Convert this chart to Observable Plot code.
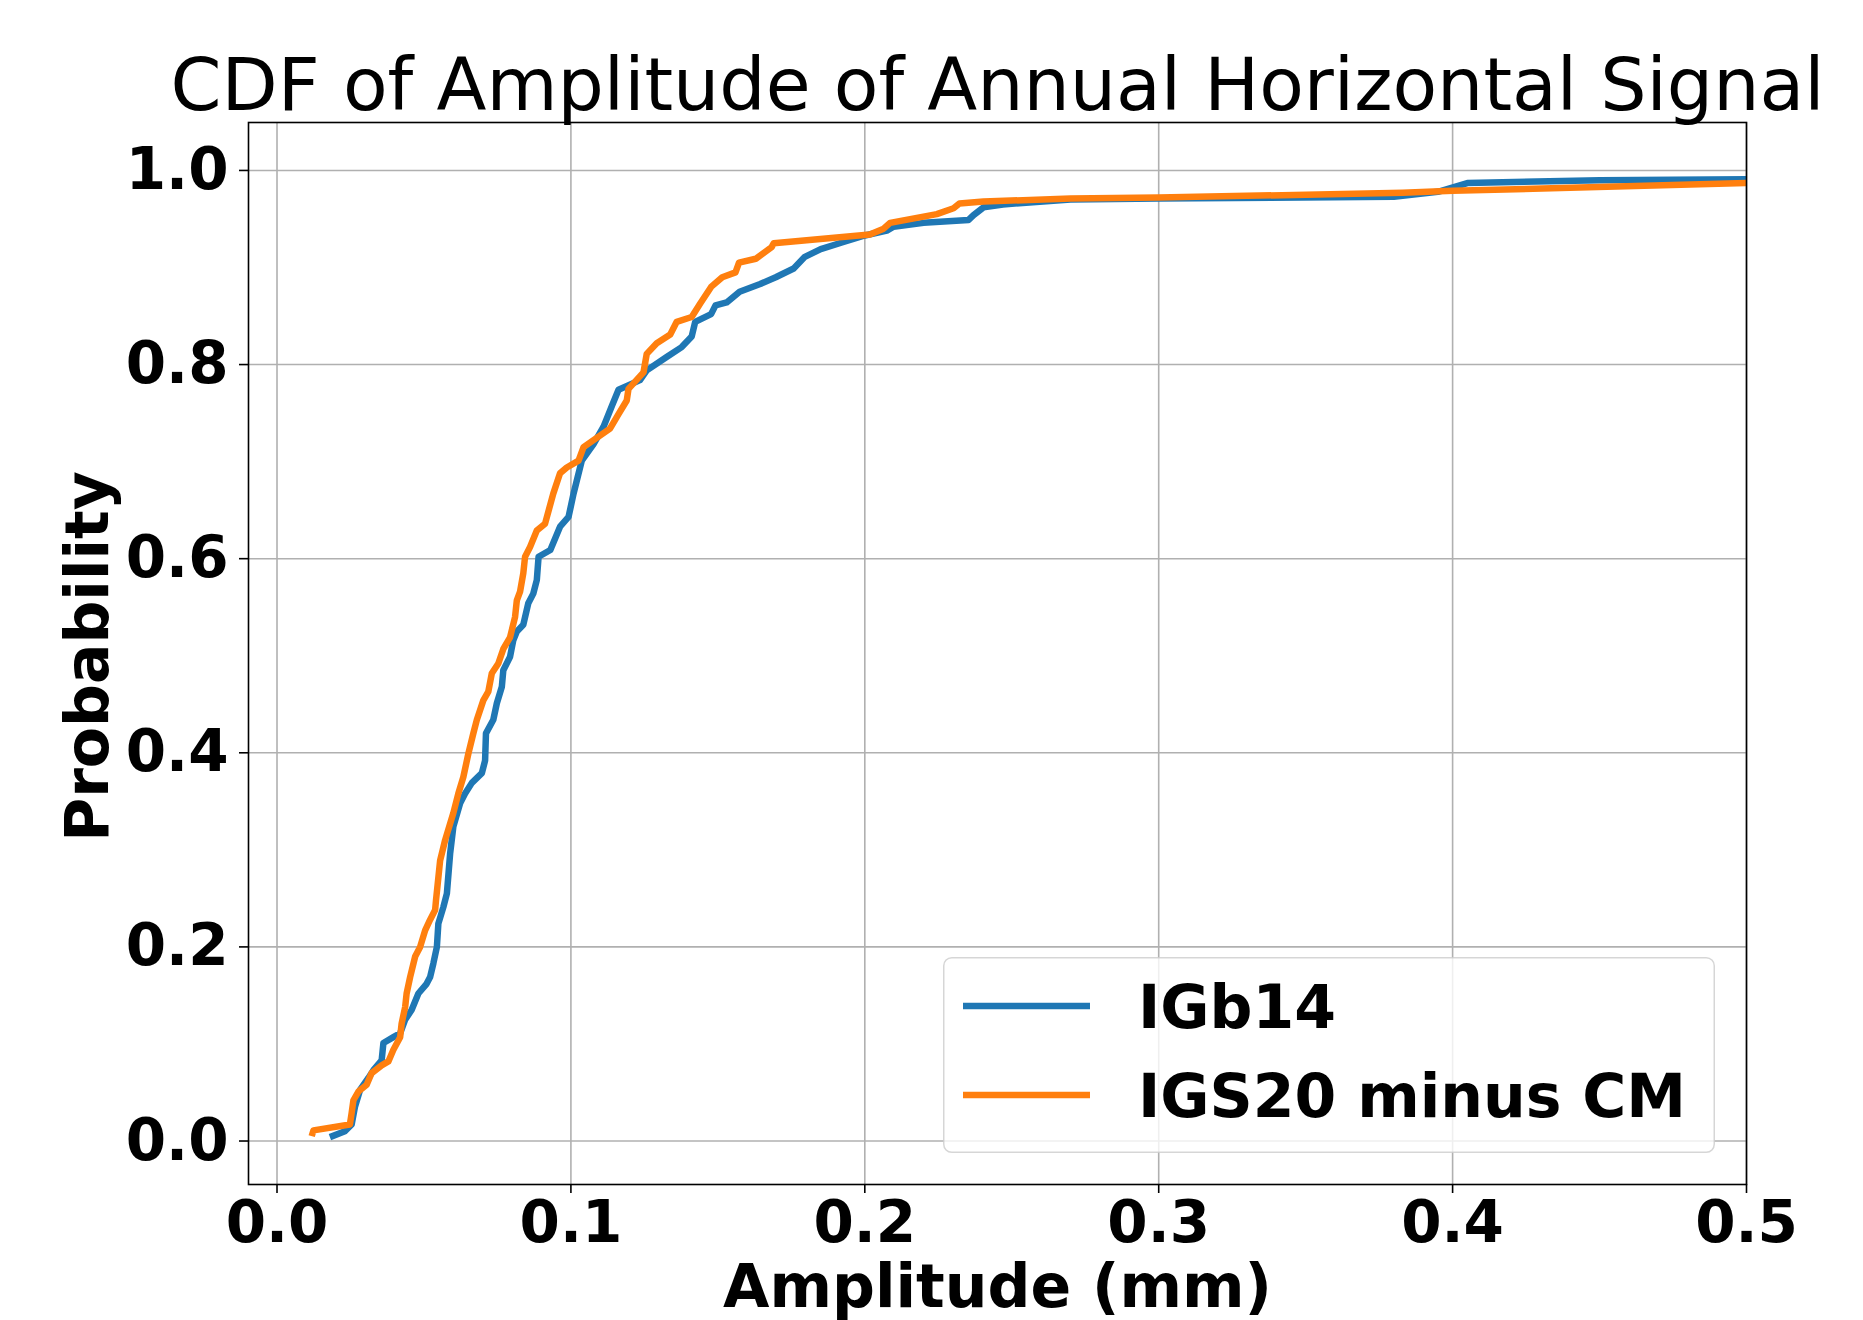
<!DOCTYPE html>
<html>
<head>
<meta charset="utf-8">
<script src="https://cdn.jsdelivr.net/npm/d3@7"></script>
<script src="https://cdn.jsdelivr.net/npm/@observablehq/plot@0.6"></script>
<style>
  html, body { margin: 0; padding: 0; background: #fff; }
  #wrap { position: relative; width: 1863px; height: 1320px; overflow: hidden; }
  #wrap svg { display: block; }
  #legend { position: absolute; left: 943px; top: 957px; }
</style>
</head>
<body>
<div id="wrap"></div>
<script>
const titleText = "CDF of Amplitude of Annual Horizontal Signal";
const xLabel = "Amplitude (mm)";
const yLabel = "Probability";
const xTicks = [0, 0.1, 0.2, 0.3, 0.4, 0.5];
const yTicks = [0, 0.2, 0.4, 0.6, 0.8, 1.0];
const seriesNames = ["IGb14", "IGS20 minus CM"];
const seriesColors = ["#1f77b4", "#ff7f0e"];

const igb14Amp = [0.0180,0.0231,0.0254,0.0265,0.0283,0.0311,0.0328,0.0356,0.0362,0.0396,0.0419,0.0436,0.0458,0.0481,0.0509,0.0521,0.0532,0.0544,0.0549,0.0566,0.0578,0.0589,0.0600,0.0623,0.0640,0.0663,0.0697,0.0708,0.0711,0.0736,0.0748,0.0765,0.0770,0.0793,0.0804,0.0816,0.0838,0.0855,0.0872,0.0884,0.0890,0.0930,0.0963,0.0992,0.1009,0.1037,0.1077,0.1111,0.1139,0.1162,0.1235,0.1258,0.1327,0.1377,0.1411,0.1423,0.1477,0.1492,0.1530,0.1574,0.1644,0.1697,0.1758,0.1796,0.1850,0.1925,0.2000,0.2075,0.2098,0.2200,0.2353,0.2370,0.2404,0.2470,0.2700,0.3000,0.3800,0.3950,0.4050,0.4500,0.5000];
const igb14Prob = [0.004,0.010,0.017,0.035,0.053,0.065,0.073,0.083,0.101,0.107,0.111,0.125,0.135,0.152,0.162,0.169,0.183,0.200,0.224,0.241,0.255,0.296,0.324,0.348,0.358,0.369,0.379,0.392,0.420,0.434,0.451,0.468,0.485,0.499,0.516,0.525,0.532,0.554,0.564,0.578,0.602,0.609,0.633,0.643,0.667,0.701,0.718,0.736,0.757,0.774,0.784,0.794,0.808,0.818,0.829,0.844,0.852,0.861,0.864,0.875,0.883,0.890,0.899,0.911,0.919,0.926,0.933,0.938,0.942,0.946,0.949,0.954,0.962,0.965,0.970,0.971,0.973,0.978,0.987,0.990,0.991];

const igs20Amp = [0.0118,0.0124,0.0248,0.0254,0.0260,0.0277,0.0305,0.0322,0.0356,0.0379,0.0396,0.0419,0.0424,0.0436,0.0441,0.0453,0.0470,0.0487,0.0504,0.0521,0.0538,0.0541,0.0555,0.0572,0.0600,0.0617,0.0634,0.0651,0.0668,0.0680,0.0702,0.0719,0.0731,0.0753,0.0770,0.0793,0.0810,0.0816,0.0827,0.0838,0.0844,0.0861,0.0884,0.0912,0.0940,0.0963,0.0986,0.1026,0.1043,0.1100,0.1133,0.1162,0.1190,0.1196,0.1247,0.1258,0.1292,0.1338,0.1360,0.1411,0.1440,0.1477,0.1515,0.1560,0.1572,0.1629,0.1683,0.1690,0.2017,0.2064,0.2086,0.2245,0.2302,0.2322,0.2404,0.2700,0.3000,0.3830,0.4000,0.5000];
const igs20Prob = [0.005,0.011,0.017,0.029,0.042,0.051,0.058,0.070,0.078,0.082,0.094,0.107,0.121,0.138,0.152,0.169,0.190,0.200,0.217,0.228,0.238,0.248,0.289,0.310,0.338,0.358,0.375,0.399,0.420,0.434,0.454,0.463,0.482,0.492,0.507,0.519,0.540,0.557,0.566,0.585,0.602,0.612,0.629,0.636,0.667,0.688,0.694,0.701,0.715,0.727,0.734,0.749,0.763,0.775,0.792,0.811,0.822,0.831,0.844,0.849,0.863,0.880,0.890,0.895,0.905,0.909,0.921,0.925,0.934,0.940,0.946,0.955,0.961,0.966,0.968,0.971,0.972,0.977,0.979,0.987];

const rows = [
  ...igb14Amp.map((x, i) => ({series: seriesNames[0], x, p: igb14Prob[i]})),
  ...igs20Amp.map((x, i) => ({series: seriesNames[1], x, p: igs20Prob[i]}))
];

const fmt = d3.format(".1f");
const font = "DejaVu Sans";

const chart = Plot.plot({
  width: 1863,
  height: 1320,
  marginLeft: 248,
  marginRight: 117,
  marginTop: 122,
  marginBottom: 136,
  style: {fontFamily: font, background: "white", color: "black", overflow: "visible"},
  x: {domain: [-0.0097, 0.5]},
  y: {domain: [-0.0448, 1.0494]},
  color: {domain: seriesNames, range: seriesColors},
  marks: [
    Plot.gridX(xTicks, {stroke: "#b0b0b0", strokeOpacity: 1, strokeWidth: 1.6}),
    Plot.gridY(yTicks, {stroke: "#b0b0b0", strokeOpacity: 1, strokeWidth: 1.6}),
    Plot.line(rows, {x: "x", y: "p", z: "series", stroke: "series", strokeWidth: 6.5, strokeLinejoin: "round", strokeLinecap: "butt", clip: true}),
    Plot.frame({stroke: "black", strokeWidth: 1.6}),
    Plot.axisX(xTicks, {tickFormat: fmt, tickSize: 9, tickPadding: 7, fontSize: 58, fontWeight: "bold", label: null, strokeWidth: 1.6}),
    Plot.axisY(yTicks, {tickFormat: fmt, tickSize: 9, tickPadding: 11, fontSize: 58, fontWeight: "bold", label: null, strokeWidth: 1.6}),
    Plot.text([titleText], {frameAnchor: "top", dy: -13, lineAnchor: "bottom", fontSize: 73, fill: "black"}),
    Plot.text([xLabel], {frameAnchor: "bottom", dy: 122, lineAnchor: "bottom", fontSize: 60, fontWeight: "bold", fill: "black"}),
    Plot.text([yLabel], {frameAnchor: "left", dx: -141, dy: 3, rotate: -90, lineAnchor: "bottom", textAnchor: "middle", fontSize: 60, fontWeight: "bold", fill: "black"})
  ]
});

const wrap = document.getElementById("wrap");
wrap.appendChild(chart);

// legend overlay (inside the axes, lower right)
const ns = "http://www.w3.org/2000/svg";
const lw = 772, lh = 196;
const leg = document.createElementNS(ns, "svg");
leg.setAttribute("id", "legend");
leg.setAttribute("width", lw);
leg.setAttribute("height", lh);
const box = document.createElementNS(ns, "rect");
box.setAttribute("x", 0.75); box.setAttribute("y", 0.75);
box.setAttribute("width", lw - 1.5); box.setAttribute("height", lh - 1.5);
box.setAttribute("rx", 8); box.setAttribute("ry", 8);
box.setAttribute("fill", "rgba(255,255,255,0.8)");
box.setAttribute("stroke", "rgba(204,204,204,0.8)");
box.setAttribute("stroke-width", 1.5);
leg.appendChild(box);
const baselines = [71, 160];
const lineYs = [49, 138];
seriesNames.forEach((name, i) => {
  const ln = document.createElementNS(ns, "line");
  ln.setAttribute("x1", 20); ln.setAttribute("x2", 147);
  ln.setAttribute("y1", lineYs[i]); ln.setAttribute("y2", lineYs[i]);
  ln.setAttribute("stroke", seriesColors[i]);
  ln.setAttribute("stroke-width", 6.5);
  leg.appendChild(ln);
  const t = document.createElementNS(ns, "text");
  t.setAttribute("x", 195); t.setAttribute("y", baselines[i]);
  t.setAttribute("font-family", font);
  t.setAttribute("font-size", 60);
  t.setAttribute("font-weight", "bold");
  t.setAttribute("fill", "black");
  t.textContent = name;
  leg.appendChild(t);
});
wrap.appendChild(leg);
</script>
</body>
</html>
